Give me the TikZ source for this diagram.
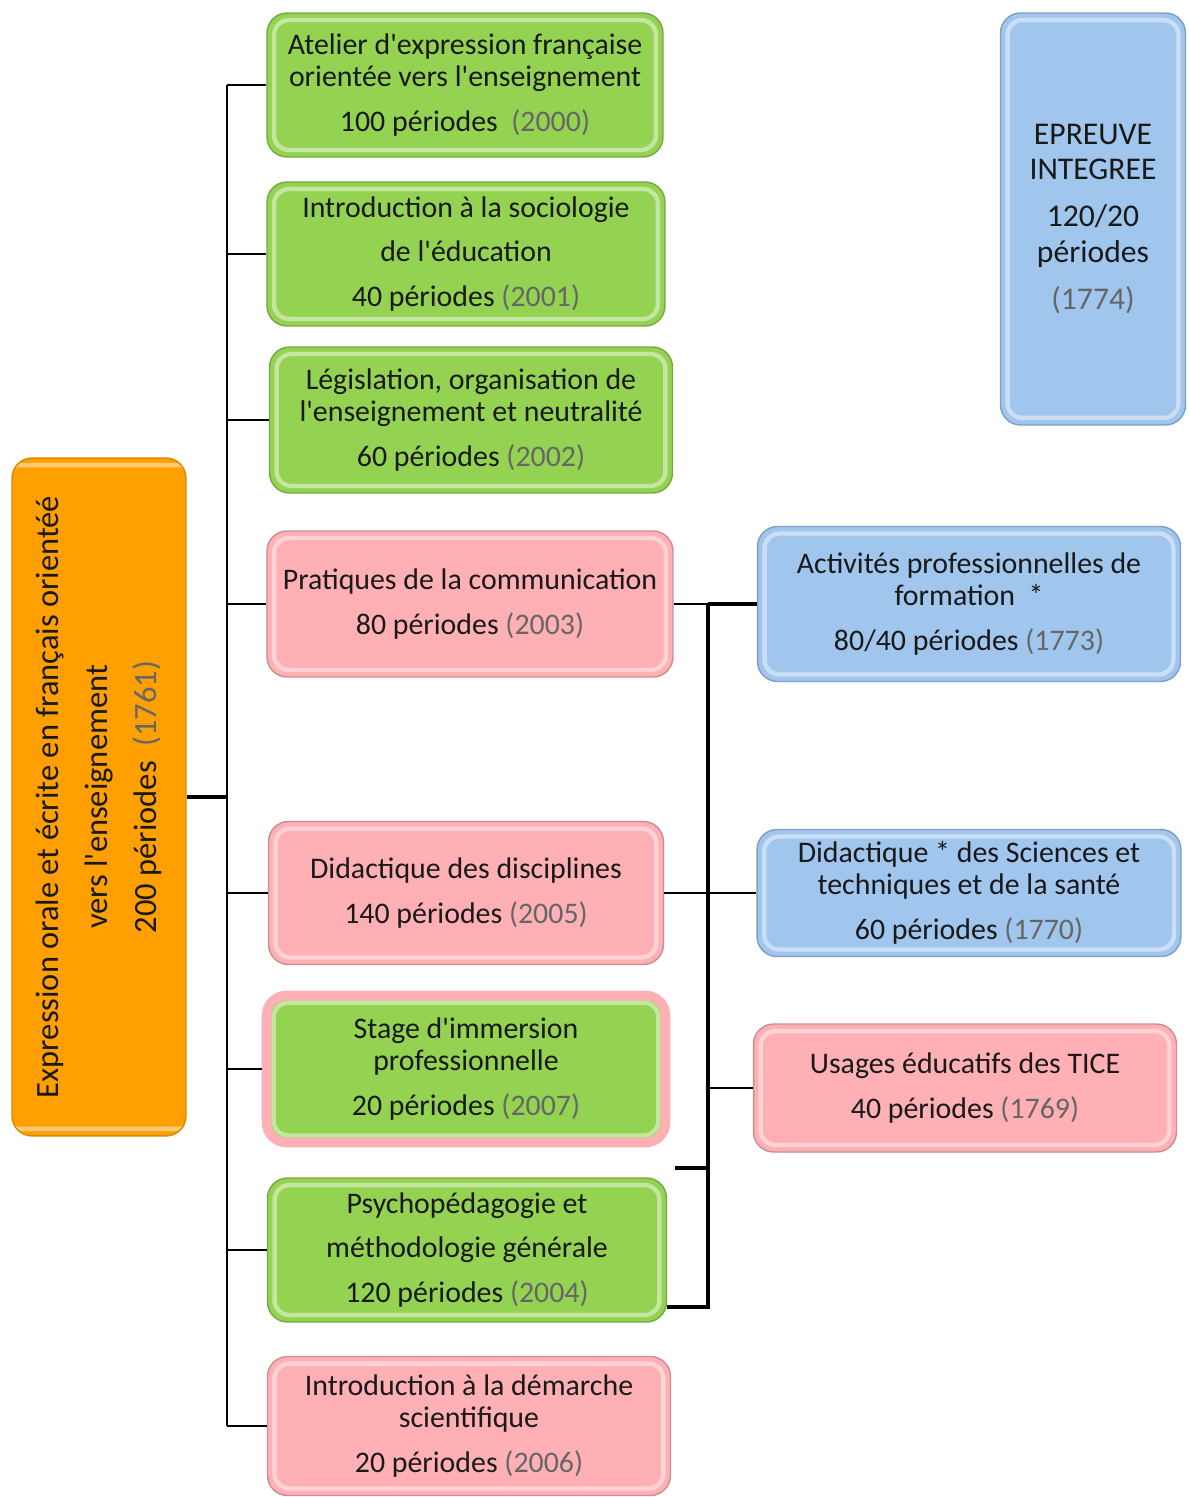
\documentclass[tikz,border=0pt]{standalone}
\usepackage{fontspec}
\setmainfont{Carlito}[Ligatures=TeXOff]
\usetikzlibrary{positioning}

\definecolor{boxgreen}{RGB}{148,210,82}
\definecolor{boxpink}{RGB}{255,176,181}
\definecolor{boxblue}{RGB}{160,198,238}
\definecolor{boxorange}{RGB}{255,160,0}
\newcommand{\yr}[1]{{\color{black!60}(#1)}}

\tikzset{
  box/.style={rounded corners=0.4cm, align=center, inner sep=0pt, line width=0.8pt,
    font=\fontsize{17}{18}\selectfont, text=black!90,
    path picture={\draw[white, opacity=0.45, line width=2.5pt, rounded corners=0.3cm]
      ([shift={(4pt,4pt)}]path picture bounding box.south west) rectangle
      ([shift={(-4pt,-4pt)}]path picture bounding box.north east);}},
  greenbox/.style={box, fill=boxgreen, draw=boxgreen!80!black},
  pinkbox/.style={box, fill=boxpink, draw=boxpink!80!black},
  bluebox/.style={box, fill=boxblue, draw=boxblue!80!black},
  link/.style={line width=1.3pt},
  biglink/.style={line width=2.4pt}
}

\begin{document}
\begin{tikzpicture}[x=0.02cm, y=-0.02cm]
  \useasboundingbox (0,0) rectangle (1188,1497);

  % main module
  \node[box, fill=boxorange, draw=boxorange!85!black, rotate=90,
        font=\fontsize{18.5}{18}\selectfont,
        minimum width=13.56cm, minimum height=3.48cm] (expr) at (99,797)
    {Expression orale et écrite en français orientéé\\[10pt]
     vers l'enseignement\\[10pt] 200 périodes \ \yr{1761}};

  % left column
  \node[greenbox, minimum width=7.92cm, minimum height=2.88cm] (atelier) at (465,85)
    {Atelier d'expression française\\ orientée vers l'enseignement\\[7.5pt] 100 périodes \ \yr{2000}};
  \node[greenbox, minimum width=7.96cm, minimum height=2.88cm] (socio) at (466,254)
    {Introduction à la sociologie\\[7.5pt] de l'éducation\\[7.5pt] 40 périodes \yr{2001}};
  \node[greenbox, minimum width=8.06cm, minimum height=2.92cm] (legis) at (471,420)
    {Législation, organisation de\\ l'enseignement et neutralité\\[7.5pt] 60 périodes \yr{2002}};
  \node[pinkbox, minimum width=8.12cm, minimum height=2.92cm] (pratiq) at (470,604)
    {Pratiques de la communication\\[7.5pt] 80 périodes \yr{2003}};
  \node[pinkbox, minimum width=7.9cm, minimum height=2.86cm] (didac) at (466,893)
    {Didactique des disciplines\\[7.5pt] 140 périodes \yr{2005}};
  \node[greenbox, draw=boxpink, line width=5.5pt, minimum width=7.98cm, minimum height=2.94cm] (stage) at (466,1069)
    {Stage d'immersion\\ professionnelle\\[7.5pt] 20 périodes \yr{2007}};
  \node[greenbox, minimum width=7.98cm, minimum height=2.88cm] (psycho) at (467,1250)
    {Psychopédagogie et\\[7.5pt] méthodologie générale\\[7.5pt] 120 périodes \yr{2004}};
  \node[pinkbox, minimum width=8.06cm, minimum height=2.78cm] (demarche) at (469,1426)
    {Introduction à la démarche\\ scientifique\\[7.5pt] 20 périodes \yr{2006}};

  % right column
  \node[bluebox, minimum width=3.7cm, minimum height=8.24cm, font=\fontsize{18}{20}\selectfont] (epreuve) at (1093,219)
    {EPREUVE\\ INTEGREE\\[7pt] 120/20\\ périodes\\[7pt] \yr{1774}};
  \node[bluebox, minimum width=8.46cm, minimum height=3.1cm] (activ) at (969,604)
    {Activités professionnelles de\\ formation \ *\\[7.5pt] 80/40 périodes \yr{1773}};
  \node[bluebox, minimum width=8.48cm, minimum height=2.54cm] (scien) at (969,893)
    {Didactique * des Sciences et\\ techniques et de la santé\\[7.5pt] 60 périodes \yr{1770}};
  \node[pinkbox, minimum width=8.46cm, minimum height=2.56cm] (tice) at (965,1088)
    {Usages éducatifs des TICE\\[7.5pt] 40 périodes \yr{1769}};

  % trunk on the left
  \coordinate (ttop) at (227,85);
  \coordinate (tbot) at (227,1426);
  \draw[link] (ttop) -- (tbot);
  \draw[biglink] (expr.south) -- (expr.south -| ttop);
  \foreach \n in {atelier,socio,legis,pratiq,didac,stage,psycho,demarche}
    \draw[link] (\n.west -| ttop) -- (\n.west);

  % links on the right
  \coordinate (rtop) at (708,604);
  \coordinate (rbot) at (708,1307);
  \coordinate (psyr) at (667,1307);
  \coordinate (midl) at (675,1168);
  \draw[link] (pratiq.east) -- (activ.west);
  \draw[biglink] (rtop) -- (activ.west);
  \draw[biglink] (rtop) -- (rbot) -- (psyr);
  \draw[link] (didac.east) -- (scien.west);
  \draw[link] (tice.west -| rtop) -- (tice.west);
  \draw[biglink] (midl) -- (midl -| rtop);
\end{tikzpicture}
\end{document}
